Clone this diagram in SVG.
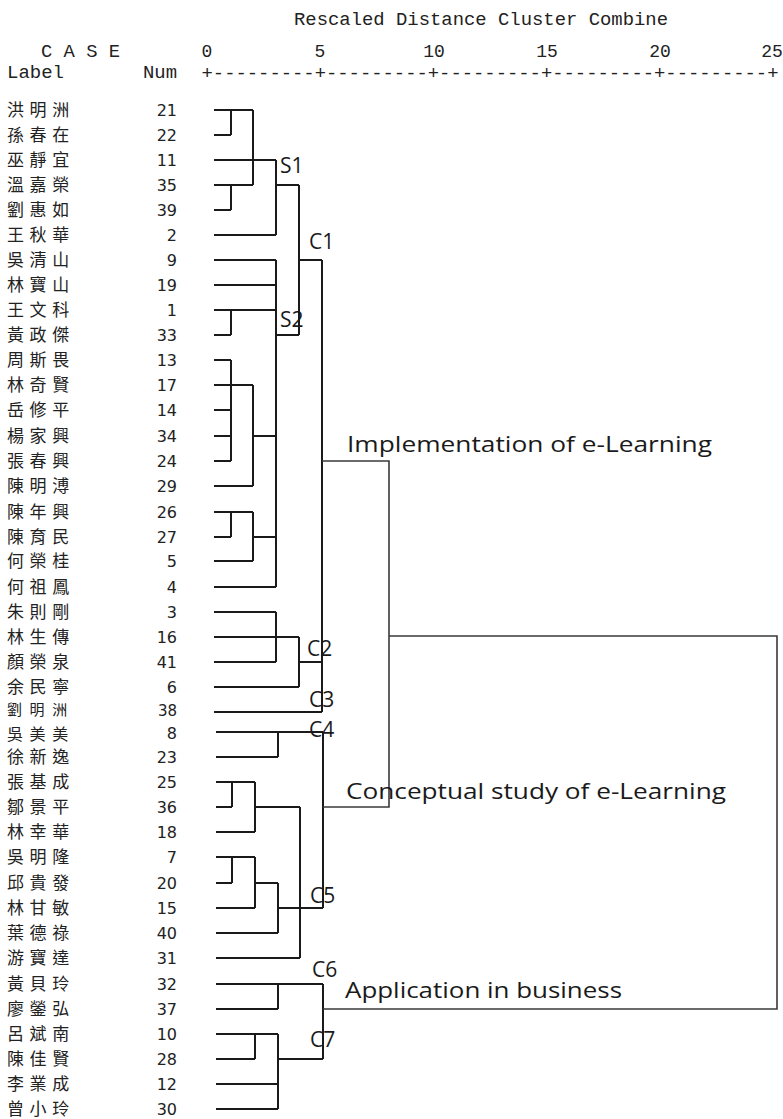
<svg xmlns="http://www.w3.org/2000/svg" width="783" height="1119" viewBox="0 0 783 1119">
<style>
.mono{font-family:"Liberation Mono","DejaVu Sans Mono",monospace;font-size:18px;fill:#222}
.lab{font-family:"Noto Sans CJK TC","Noto Sans CJK SC",sans-serif;font-size:17px;letter-spacing:5.6px;fill:#222}
.num{font-family:"DejaVu Sans",sans-serif;font-size:16px;fill:#222;text-anchor:end}
.cl{font-family:"Open Sans","Noto Sans",sans-serif;font-size:21px;fill:#1a1a1a}
.big{font-family:"Open Sans","Noto Sans",sans-serif;font-size:21px;fill:#1a1a1a}
.ln{fill:none;stroke:#1a1a1a;stroke-width:2}
.rl{fill:none;stroke:#3a3a3a;stroke-width:1.6}
</style>
<rect width="783" height="1119" fill="#fff"/>
<g id="header">
<text class="mono" x="294" y="25" textLength="374" lengthAdjust="spacingAndGlyphs">Rescaled Distance Cluster Combine</text>
<text class="mono" x="41" y="57" textLength="79" lengthAdjust="spacingAndGlyphs">C A S E</text>
<g text-anchor="middle">
<text class="mono" x="207" y="57">0</text>
<text class="mono" x="320" y="57">5</text>
<text class="mono" x="434" y="57">10</text>
<text class="mono" x="547" y="57">15</text>
<text class="mono" x="660" y="57">20</text>
<text class="mono" x="772" y="57">25</text>
</g>
<text class="mono" x="7" y="78" textLength="57" lengthAdjust="spacingAndGlyphs">Label</text>
<text class="mono" x="143" y="78" textLength="34" lengthAdjust="spacingAndGlyphs">Num</text>
<text class="mono" x="201.5" y="79" textLength="577" lengthAdjust="spacingAndGlyphs">+---------+---------+---------+---------+---------+</text>
</g>
<g id="leaves">
<g id="n21"><text class="lab" x="7" y="116">洪明洲</text><text class="num" x="177" y="116">21</text></g>
<g id="n22"><text class="lab" x="7" y="141">孫春在</text><text class="num" x="177" y="141">22</text></g>
<g id="n11"><text class="lab" x="7" y="166">巫靜宜</text><text class="num" x="177" y="166">11</text></g>
<g id="n35"><text class="lab" x="7" y="191">溫嘉榮</text><text class="num" x="177" y="191">35</text></g>
<g id="n39"><text class="lab" x="7" y="216">劉惠如</text><text class="num" x="177" y="216">39</text></g>
<g id="n2"><text class="lab" x="7" y="241">王秋華</text><text class="num" x="177" y="241">2</text></g>
<g id="n9"><text class="lab" x="7" y="266">吳清山</text><text class="num" x="177" y="266">9</text></g>
<g id="n19"><text class="lab" x="7" y="291">林寶山</text><text class="num" x="177" y="291">19</text></g>
<g id="n1"><text class="lab" x="7" y="316">王文科</text><text class="num" x="177" y="316">1</text></g>
<g id="n33"><text class="lab" x="7" y="341">黃政傑</text><text class="num" x="177" y="341">33</text></g>
<g id="n13"><text class="lab" x="7" y="366">周斯畏</text><text class="num" x="177" y="366">13</text></g>
<g id="n17"><text class="lab" x="7" y="391">林奇賢</text><text class="num" x="177" y="391">17</text></g>
<g id="n14"><text class="lab" x="7" y="416">岳修平</text><text class="num" x="177" y="416">14</text></g>
<g id="n34"><text class="lab" x="7" y="442">楊家興</text><text class="num" x="177" y="442">34</text></g>
<g id="n24"><text class="lab" x="7" y="467">張春興</text><text class="num" x="177" y="467">24</text></g>
<g id="n29"><text class="lab" x="7" y="492">陳明溥</text><text class="num" x="177" y="492">29</text></g>
<g id="n26"><text class="lab" x="7" y="518">陳年興</text><text class="num" x="177" y="518">26</text></g>
<g id="n27"><text class="lab" x="7" y="543">陳育民</text><text class="num" x="177" y="543">27</text></g>
<g id="n5"><text class="lab" x="7" y="567">何榮桂</text><text class="num" x="177" y="567">5</text></g>
<g id="n4"><text class="lab" x="7" y="593">何祖鳳</text><text class="num" x="177" y="593">4</text></g>
<g id="n3"><text class="lab" x="7" y="618">朱則剛</text><text class="num" x="177" y="618">3</text></g>
<g id="n16"><text class="lab" x="7" y="643">林生傳</text><text class="num" x="177" y="643">16</text></g>
<g id="n41"><text class="lab" x="7" y="668">顏榮泉</text><text class="num" x="177" y="668">41</text></g>
<g id="n6"><text class="lab" x="7" y="693">余民寧</text><text class="num" x="177" y="693">6</text></g>
<g id="n38"><text class="lab" x="7" y="715" style="font-size:15px;letter-spacing:7.6px">劉明洲</text><text class="num" x="177" y="716" style="font-size:15px">38</text></g>
<g id="n8"><text class="lab" x="7" y="740" style="font-size:16px;letter-spacing:6.6px">吳美美</text><text class="num" x="177" y="739">8</text></g>
<g id="n23"><text class="lab" x="7" y="763">徐新逸</text><text class="num" x="177" y="763">23</text></g>
<g id="n25"><text class="lab" x="7" y="788">張基成</text><text class="num" x="177" y="788">25</text></g>
<g id="n36"><text class="lab" x="7" y="813">鄒景平</text><text class="num" x="177" y="813">36</text></g>
<g id="n18"><text class="lab" x="7" y="838">林幸華</text><text class="num" x="177" y="838">18</text></g>
<g id="n7"><text class="lab" x="7" y="863">吳明隆</text><text class="num" x="177" y="863">7</text></g>
<g id="n20"><text class="lab" x="7" y="889">邱貴發</text><text class="num" x="177" y="889">20</text></g>
<g id="n15"><text class="lab" x="7" y="914">林甘敏</text><text class="num" x="177" y="914">15</text></g>
<g id="n40"><text class="lab" x="7" y="939">葉德祿</text><text class="num" x="177" y="939">40</text></g>
<g id="n31"><text class="lab" x="7" y="964">游寶達</text><text class="num" x="177" y="964">31</text></g>
<g id="n32"><text class="lab" x="7" y="990">黃貝玲</text><text class="num" x="177" y="990">32</text></g>
<g id="n37"><text class="lab" x="7" y="1015">廖鎣弘</text><text class="num" x="177" y="1015">37</text></g>
<g id="n10"><text class="lab" x="7" y="1040">呂斌南</text><text class="num" x="177" y="1040">10</text></g>
<g id="n28"><text class="lab" x="7" y="1065">陳佳賢</text><text class="num" x="177" y="1065">28</text></g>
<g id="n12"><text class="lab" x="7" y="1090">李業成</text><text class="num" x="177" y="1090">12</text></g>
<g id="n30"><text class="lab" x="7" y="1115">曾小玲</text><text class="num" x="177" y="1115">30</text></g>
</g>
<g id="connectors">
<path class="ln" d="M214 110H253M231 110V135M214 135H231M214 160H276M214 185H253M231 185V210M214 210H231M253 110V185M276 160V235M214 235H276M276 185H299M299 185V335"/>
<path class="ln" d="M214 260H276M214 285H276M214 310H276M231 310V335M214 335H231M276 335H299M276 260V587M299 260H322"/>
<path class="ln" d="M214 360H231M231 360V461M214 385H253M214 410H231M214 436H231M214 461H231M214 486H253M253 385V486M253 436H276M214 512H253M231 512V537M214 537H231M253 537H276M253 512V561M214 561H253M214 587H276"/>
<path class="ln" d="M214 612H276M276 612V662M214 637H299M214 662H276M299 637V687M214 687H299M299 662H322M214 712H322M322 260V712"/>
<path class="ln" d="M216 732H323M278 732V757M216 757H278M216 782H255M232 782V807M216 807H232M255 807H300M255 782V832M216 832H255"/>
<path class="ln" d="M216 857H255M232 857V883M216 883H232M255 883H278M255 857V908M216 908H255M278 883V933M216 933H278M278 908H323M300 807V958M216 958H300M323 732V908"/>
<path class="ln" d="M216 984H323M278 984V1009M216 1009H278M323 984V1059M216 1034H278M255 1034V1059M216 1059H255M278 1059H323M278 1034V1109M216 1084H278M216 1109H278"/>
<path class="rl" d="M322 461H389V807H323M389 636H777V1009H323"/>
</g>
<g id="cluster-labels">
<text class="cl" x="280" y="173">S1</text>
<text class="cl" x="309" y="249">C1</text>
<text class="cl" x="280" y="327">S2</text>
<text class="cl" x="307" y="656">C2</text>
<text class="cl" x="309" y="707">C3</text>
<text class="cl" x="309" y="737">C4</text>
<text class="cl" x="310" y="903">C5</text>
<text class="cl" x="312" y="977">C6</text>
<text class="cl" x="310" y="1047">C7</text>
<text class="big" x="347" y="452" textLength="365" lengthAdjust="spacingAndGlyphs">Implementation of e-Learning</text>
<text class="big" x="346" y="799" textLength="380" lengthAdjust="spacingAndGlyphs">Conceptual study of e-Learning</text>
<text class="big" x="345" y="998" textLength="277" lengthAdjust="spacingAndGlyphs">Application in business</text>
</g>
</svg>
